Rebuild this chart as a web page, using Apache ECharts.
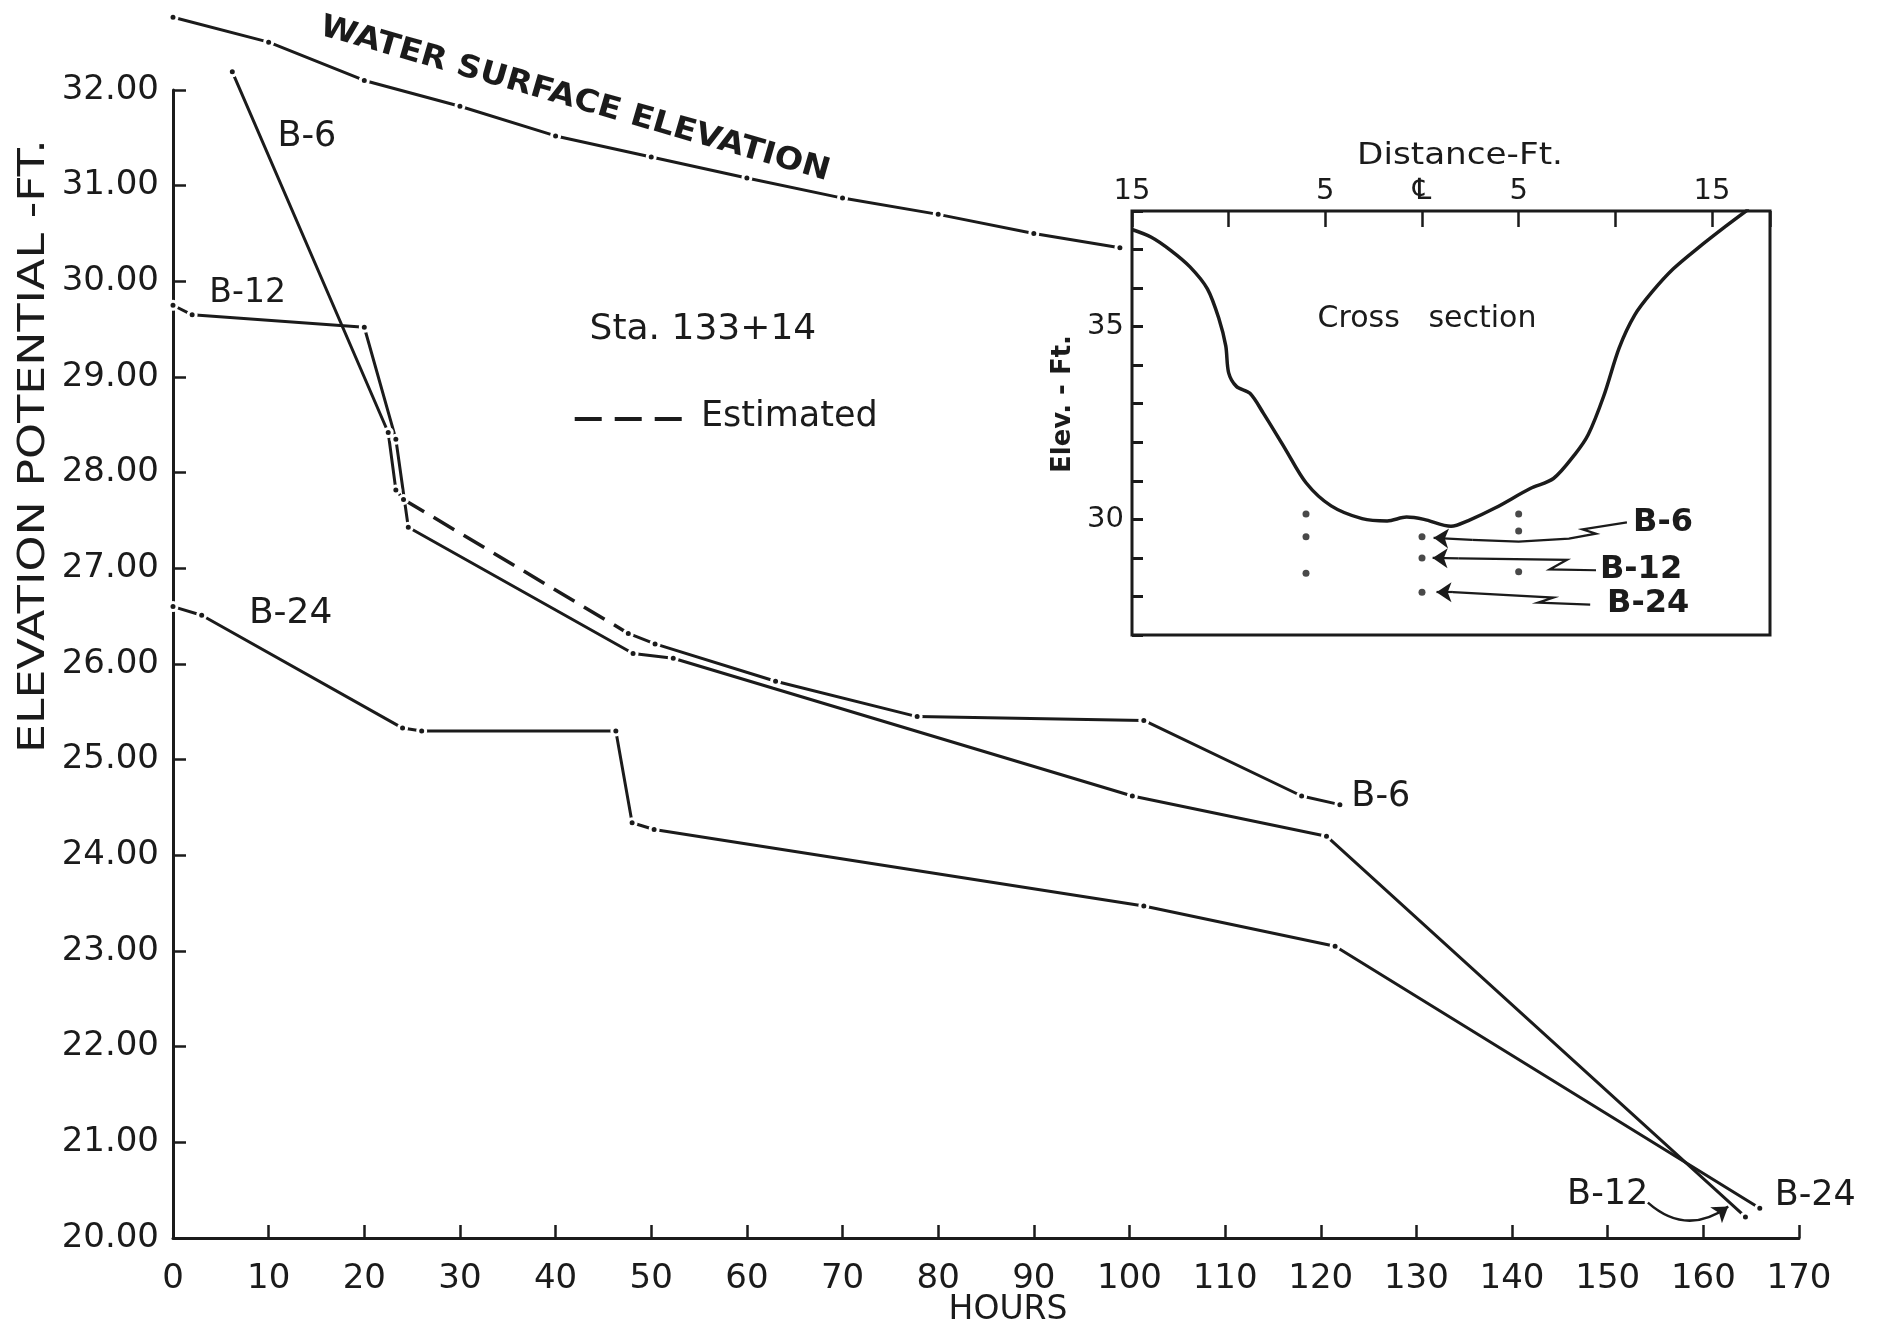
<!DOCTYPE html>
<html>
<head>
<meta charset="utf-8">
<title>Elevation potential, Sta. 133+14</title>
<script src="https://cdn.jsdelivr.net/npm/echarts/dist/echarts.min.js"></script>
<style>
  html, body { margin: 0; padding: 0; background: #ffffff; }
  #chart { width: 1879px; height: 1324px; }
</style>
</head>
<body>
<div id="chart"></div>
<script>
// ---------- Main plot: elevation potential against time ----------
const hourTicks = [0, 10, 20, 30, 40, 50, 60, 70, 80, 90, 100, 110, 120, 130, 140, 150, 160, 170];
const elevationTicks = [20, 21, 22, 23, 24, 25, 26, 27, 28, 29, 30, 31, 32];

const waterHours = [0, 10, 20, 30, 40, 50, 60, 70, 80, 90, 99];
const waterElev  = [32.76, 32.50, 32.10, 31.83, 31.52, 31.30, 31.08, 30.87, 30.70, 30.50, 30.35];

const b6Hours = [6.2, 22.5, 23.3, 24.1];
const b6Elev  = [32.19, 28.42, 27.82, 27.72];
const b6EstHours = [24.1, 47.6];
const b6EstElev  = [27.72, 26.32];
const b6LateHours = [47.6, 50.4, 63.0, 77.8, 101.5, 118.0, 122.0];
const b6LateElev  = [26.32, 26.21, 25.82, 25.45, 25.41, 24.62, 24.53];

const b12Hours = [0, 2, 20, 23.3, 24.6, 48.1, 52.3, 100.3, 120.6, 164.4];
const b12Elev  = [29.75, 29.65, 29.52, 28.35, 27.43, 26.11, 26.06, 24.62, 24.20, 20.22];

const b24Hours = [0, 3, 24, 26, 46.3, 48.0, 50.3, 101.5, 121.5, 165.9];
const b24Elev  = [26.60, 26.51, 25.33, 25.30, 25.30, 24.34, 24.27, 23.47, 23.05, 20.31];

// ---------- Inset: channel cross section ----------
const insetDistTicks  = [-15, -10, -5, 0, 5, 10, 15];
const insetDistLabels = ['15', '', '5', '\u2104', '5', '', '15'];
const insetElevTicks  = [27, 28, 29, 30, 31, 32, 33, 34, 35, 36, 37, 38];
const insetElevLabels = [30, 35];

const sectionDist = [-15.0, -14.0, -13.0, -12.0, -11.1, -10.5, -10.15, -10.0, -9.6, -8.9, -8.2, -7.1, -6.0, -4.7, -3.1, -1.8, -0.8, 0.1, 1.5, 2.4, 3.8, 5.6, 6.8, 7.9, 8.6, 9.4, 10.2, 11.0, 11.9, 13.0, 14.3, 15.7, 16.9];
const sectionElev = [37.52, 37.32, 36.98, 36.55, 35.98, 35.20, 34.50, 33.80, 33.45, 33.27, 32.75, 31.85, 30.95, 30.35, 30.02, 29.96, 30.06, 30.00, 29.82, 29.97, 30.30, 30.80, 31.06, 31.68, 32.20, 33.20, 34.45, 35.30, 35.90, 36.50, 37.05, 37.60, 38.05];

const wellDist = [-6, -6, -6, 0, 0, 0, 5, 5, 5];
const wellElev = [30.14, 29.55, 28.60, 29.55, 29.00, 28.11, 30.14, 29.70, 28.64];

// leader lines from the well labels to their piezometer tips (inset units)
const leaderB6  = [[10.6, 29.92], [8.3, 29.74], [9.0, 29.63], [7.6, 29.50], [5.0, 29.42], [2.6, 29.47]];
const leaderB12 = [[9.0, 28.68], [6.6, 28.70], [7.5, 28.95], [1.9, 28.99]];
const leaderB24 = [[8.7, 27.79], [6.0, 27.84], [6.8, 27.97], [1.6, 28.11]];
const leaderTips = [[0.6, 29.52], [0.55, 29.00], [0.75, 28.11]];

const FONT = 'DejaVu Sans';
const INK = '#1b1b1b';

function pairs(xs, ys) { return xs.map((x, i) => [x, ys[i]]); }

const ringDot = {
  symbol: 'circle', symbolSize: 8, showSymbol: true,
  itemStyle: { color: INK, borderColor: '#ffffff', borderWidth: 3 }
};

function curve(name, xs, ys, extra) {
  return Object.assign({
    name, type: 'line', xAxisIndex: 0, yAxisIndex: 0,
    data: pairs(xs, ys), clip: false, silent: true,
    lineStyle: { color: INK, width: 3 },
    emphasis: { disabled: true }
  }, ringDot, extra || {});
}

const chart = echarts.init(document.getElementById('chart'), null, { renderer: 'canvas' });

const axisText = { fontFamily: FONT, color: INK };

chart.setOption({
  animation: false,
  backgroundColor: '#ffffff',
  grid: [
    { left: 173, right: 80, top: 90, bottom: 86, outerBoundsMode: 'none' },
    { left: 1132, top: 211, width: 638, height: 424, show: true, borderColor: INK, borderWidth: 3,
      backgroundColor: 'rgba(0,0,0,0)', outerBoundsMode: 'none' }
  ],
  xAxis: [
    {
      gridIndex: 0, type: 'value',
      min: hourTicks[0], max: hourTicks[hourTicks.length - 1], interval: hourTicks[1] - hourTicks[0],
      axisLine: { onZero: false, lineStyle: { color: INK, width: 3 } },
      axisTick: { inside: true, length: 13, lineStyle: { color: INK, width: 2.5 } },
      axisLabel: Object.assign({ margin: 24, fontSize: 34 }, axisText),
      splitLine: { show: false }
    },
    {
      gridIndex: 1, type: 'value', position: 'top',
      min: insetDistTicks[0], max: 18, interval: insetDistTicks[1] - insetDistTicks[0],
      axisLine: { show: false, onZero: false },
      axisTick: { inside: true, length: 16, lineStyle: { color: INK, width: 2.5 } },
      axisLabel: Object.assign({
        margin: 5, fontSize: 29, showMaxLabel: true,
        formatter: v => { const i = insetDistTicks.indexOf(v); return i >= 0 ? insetDistLabels[i] : ''; }
      }, axisText),
      splitLine: { show: false }
    }
  ],
  yAxis: [
    {
      gridIndex: 0, type: 'value',
      min: elevationTicks[0], max: elevationTicks[elevationTicks.length - 1], interval: elevationTicks[1] - elevationTicks[0],
      axisLine: { show: true, onZero: false, lineStyle: { color: INK, width: 3 } },
      axisTick: { show: true, inside: true, length: 13, lineStyle: { color: INK, width: 2.5 } },
      axisLabel: Object.assign({ margin: 14, fontSize: 34, formatter: v => v.toFixed(2) }, axisText),
      splitLine: { show: false }
    },
    {
      gridIndex: 1, type: 'value', position: 'left',
      min: insetElevTicks[0], max: insetElevTicks[insetElevTicks.length - 1], interval: insetElevTicks[1] - insetElevTicks[0],
      axisLine: { show: false, onZero: false },
      axisTick: { show: true, inside: true, length: 11, lineStyle: { color: INK, width: 3 } },
      axisLabel: Object.assign({
        margin: 8, fontSize: 29,
        formatter: v => insetElevLabels.indexOf(v) >= 0 ? String(v) : ''
      }, axisText),
      splitLine: { show: false }
    }
  ],
  series: [
    curve('Water surface elevation', waterHours, waterElev),
    curve('B-6', b6Hours, b6Elev),
    curve('Estimated', b6EstHours, b6EstElev, {
      showSymbol: false, symbol: 'none',
      lineStyle: { color: INK, width: 3.5, type: [24, 11] }
    }),
    curve('B-6 ', b6LateHours, b6LateElev),
    curve('B-12', b12Hours, b12Elev),
    curve('B-24', b24Hours, b24Elev),
    {
      name: 'B-12 pointer', type: 'lines', coordinateSystem: 'cartesian2d',
      xAxisIndex: 0, yAxisIndex: 0, silent: true,
      symbol: ['none', 'arrow'], symbolSize: 15,
      lineStyle: { color: INK, width: 2.5, curveness: -0.4, opacity: 1 },
      data: [{ coords: [[154.2, 20.37], [162.6, 20.33]] }]
    },
    {
      name: 'Cross section', type: 'line', xAxisIndex: 1, yAxisIndex: 1,
      data: pairs(sectionDist, sectionElev), smooth: 0.3, symbol: 'none', silent: true,
      lineStyle: { color: INK, width: 3.5 }, emphasis: { disabled: true }
    },
    {
      name: 'Piezometers', type: 'scatter', xAxisIndex: 1, yAxisIndex: 1,
      data: pairs(wellDist, wellElev), symbol: 'circle', symbolSize: 7, silent: true,
      itemStyle: { color: INK }, emphasis: { disabled: true }
    },
    {
      name: 'Leaders', type: 'lines', coordinateSystem: 'cartesian2d', polyline: true,
      xAxisIndex: 1, yAxisIndex: 1, silent: true,
      lineStyle: { color: INK, width: 2.2, opacity: 1 },
      data: [leaderB6, leaderB12, leaderB24].map(c => ({ coords: c }))
    },
    {
      name: 'Leader arrows', type: 'lines', coordinateSystem: 'cartesian2d',
      xAxisIndex: 1, yAxisIndex: 1, silent: true,
      symbol: ['none', 'arrow'], symbolSize: 15,
      lineStyle: { color: INK, width: 2.2, opacity: 1 },
      data: [leaderB6, leaderB12, leaderB24].map((c, i) => ({ coords: [c[c.length - 1], leaderTips[i]] }))
    }
  ]
});

// ---------- text placed in data units of either plot ----------
function at(grid, x, y) { return chart.convertToPixel({ gridIndex: grid }, [x, y]); }

function label(grid, x, y, text, style, extra) {
  const p = at(grid, x, y);
  return Object.assign({
    type: 'text', x: p[0], y: p[1], silent: true,
    style: Object.assign({ text, fill: INK, fontFamily: FONT, fontSize: 34, align: 'center', verticalAlign: 'middle' }, style || {})
  }, extra || {});
}

const legendStart = at(0, 42.0, 28.56);
const legendEnd = at(0, 53.3, 28.56);

chart.setOption({
  graphic: [
    // axis titles
    { type: 'text', x: 34, y: 446, rotation: Math.PI / 2, scaleX: 1.24, silent: true,
      style: { text: 'ELEVATION POTENTIAL -FT.', fill: INK, fontFamily: FONT, fontSize: 37, align: 'center', verticalAlign: 'middle' } },
    { type: 'text', x: 1008, y: 1310, silent: true,
      style: { text: 'HOURS', fill: INK, fontFamily: FONT, fontSize: 33, align: 'center', verticalAlign: 'middle' } },
    { type: 'text', x: 1460, y: 156, scaleX: 1.14, silent: true,
      style: { text: 'Distance-Ft.', fill: INK, fontFamily: FONT, fontSize: 30, align: 'center', verticalAlign: 'middle' } },
    { type: 'text', x: 1063, y: 404, rotation: Math.PI / 2, silent: true,
      style: { text: 'Elev. - Ft.', fill: INK, fontFamily: FONT, fontSize: 26, fontWeight: 'bold', align: 'center', verticalAlign: 'middle' } },

    // main plot annotations
    label(0, 42.0, 31.90, 'WATER SURFACE ELEVATION', { fontSize: 31, fontWeight: 'bold' }, { rotation: -0.28, scaleX: 1.08 }),
    label(0, 14.0, 31.51, 'B-6', { fontSize: 35 }),
    label(0, 7.8, 29.87, 'B-12', { fontSize: 33 }),
    label(0, 12.3, 26.53, 'B-24', { fontSize: 36 }),
    label(0, 55.4, 29.49, 'Sta. 133+14', { fontSize: 36 }),
    { type: 'line', silent: true,
      shape: { x1: legendStart[0], y1: legendStart[1], x2: legendEnd[0], y2: legendEnd[1] },
      style: { stroke: INK, lineWidth: 4, lineDash: [27, 13] } },
    label(0, 55.2, 28.58, 'Estimated', { fontSize: 35, align: 'left' }),
    label(0, 123.2, 24.61, 'B-6', { fontSize: 35, align: 'left' }),
    label(0, 150.0, 20.45, 'B-12', { fontSize: 35 }),
    label(0, 171.7, 20.44, 'B-24', { fontSize: 35 }),

    // inset annotations
    label(1, 0.26, 35.19, 'Cross   section', { fontSize: 30 }),
    label(1, 12.47, 29.92, 'B-6', { fontSize: 32, fontWeight: 'bold' }),
    label(1, 11.33, 28.70, 'B-12', { fontSize: 32, fontWeight: 'bold' }),
    label(1, 11.70, 27.80, 'B-24', { fontSize: 32, fontWeight: 'bold' })
  ]
});
</script>
</body>
</html>
